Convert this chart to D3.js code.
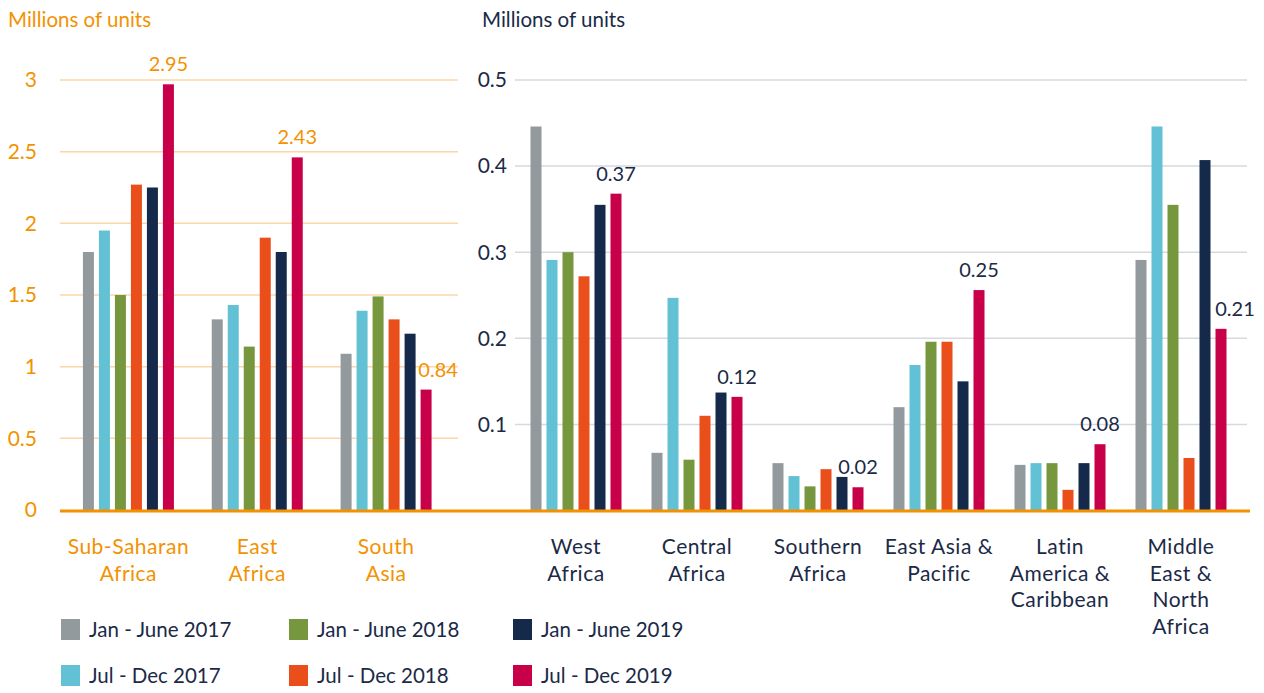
<!DOCTYPE html>
<html>
<head>
<meta charset="utf-8">
<script src="https://cdn.jsdelivr.net/npm/d3@7"></script>
<style>
  body { margin: 0; background: #fff; }
  svg text { font-family: Lato, "Open Sans", sans-serif; }
</style>
</head>
<body>
<div id="chart"></div>
<script>
// Series (periods)
const seriesNames = ['Jan - June 2017', 'Jul - Dec 2017', 'Jan - June 2018', 'Jul - Dec 2018', 'Jan - June 2019', 'Jul - Dec 2019'];
const seriesColors = ['#939a9d', '#63c1d6', '#77973f', '#e94e1b', '#15294a', '#c8004a'];

// Left panel: large regions
const leftCategories = [['Sub-Saharan', 'Africa'], ['East', 'Africa'], ['South', 'Asia']];
const leftValues = [
  [1.80, 1.95, 1.50, 2.27, 2.25, 2.97],
  [1.33, 1.43, 1.14, 1.90, 1.80, 2.46],
  [1.09, 1.39, 1.49, 1.33, 1.23, 0.84]
];
const leftLabels = ['2.95', '2.43', '0.84'];
const leftLabelShift = [0, 0, 12];
const leftTicks = [0, 0.5, 1, 1.5, 2, 2.5, 3];

// Right panel: smaller regions
const rightCategories = [['West', 'Africa'], ['Central', 'Africa'], ['Southern', 'Africa'], ['East Asia &', 'Pacific'], ['Latin', 'America &', 'Caribbean'], ['Middle', 'East &', 'North', 'Africa']];
const rightValues = [
  [0.446, 0.291, 0.300, 0.272, 0.355, 0.368],
  [0.067, 0.247, 0.059, 0.110, 0.137, 0.132],
  [0.055, 0.040, 0.028, 0.048, 0.039, 0.027],
  [0.120, 0.169, 0.196, 0.196, 0.150, 0.256],
  [0.053, 0.055, 0.055, 0.024, 0.055, 0.077],
  [0.291, 0.446, 0.355, 0.061, 0.407, 0.211]
];
const rightLabels = ['0.37', '0.12', '0.02', '0.25', '0.08', '0.21'];
const rightLabelShift = [0, 0, 0, 0, 0, 14];
const rightTicks = [0.1, 0.2, 0.3, 0.4, 0.5];

const ORANGE = '#f39200';
const NAVY = '#1b2a47';

const svg = d3.select('#chart').append('svg')
  .attr('width', 1264)
  .attr('height', 693);

// Scales
const yLeft = d3.scaleLinear().domain([0, 3]).range([510, 80]);
const yRight = d3.scaleLinear().domain([0, 0.5]).range([510.5, 80]);

const xLeft = d3.scaleBand().domain(d3.range(leftCategories.length)).range([64, 450.5]);
const xRight = d3.scaleBand().domain(d3.range(rightCategories.length)).range([515.5, 1241.5]);
const xInner = d3.scaleBand().domain(d3.range(seriesNames.length)).range([0, 91]).paddingInner(0.3125);

function drawPanel(opts) {
  const g = svg.append('g');

  // gridlines
  g.selectAll('line.grid')
    .data(opts.ticks.filter(d => d > 0))
    .enter().append('line')
    .attr('x1', opts.gridX[0])
    .attr('x2', opts.gridX[1])
    .attr('y1', d => opts.y(d))
    .attr('y2', d => opts.y(d))
    .attr('stroke', opts.gridColor)
    .attr('stroke-width', 1.5);

  // tick labels
  g.selectAll('text.tick')
    .data(opts.ticks)
    .enter().append('text')
    .attr('x', opts.tickX)
    .attr('y', d => opts.y(d))
    .attr('dy', '0.35em')
    .attr('text-anchor', 'end')
    .attr('fill', opts.textColor)
    .style('font-size', '21px')
    .text(d => d);

  // bars
  const groups = g.selectAll('g.group')
    .data(opts.values)
    .enter().append('g')
    .attr('transform', (d, i) => `translate(${opts.x(i) + (opts.x.bandwidth() - 91) / 2},0)`);

  groups.selectAll('rect')
    .data(d => d)
    .enter().append('rect')
    .attr('x', (d, j) => xInner(j))
    .attr('width', xInner.bandwidth())
    .attr('y', d => opts.y(d))
    .attr('height', d => opts.y(0) - opts.y(d))
    .attr('fill', (d, j) => seriesColors[j]);

  // value labels above the last series
  groups.append('text')
    .attr('x', (d, i) => xInner(5) + xInner.bandwidth() / 2 + opts.labelShift[i])
    .attr('y', d => opts.y(d[5]) - 13)
    .attr('text-anchor', 'middle')
    .attr('fill', opts.textColor)
    .style('font-size', '20px')
    .text((d, i) => opts.labels[i]);

  // category labels
  const cat = g.selectAll('text.cat')
    .data(opts.categories)
    .enter().append('text')
    .attr('text-anchor', 'middle')
    .attr('fill', opts.textColor)
    .style('font-size', '21px')
    .style('letter-spacing', '0.5px');

  cat.each(function(lines, i) {
    d3.select(this).selectAll('tspan')
      .data(lines)
      .enter().append('tspan')
      .attr('x', opts.x(i) + opts.x.bandwidth() / 2)
      .attr('y', (d, k) => 554 + k * 26.5)
      .text(d => d);
  });

  // axis title
  g.append('text')
    .attr('x', opts.titleX)
    .attr('y', 27)
    .attr('fill', opts.textColor)
    .style('font-size', '20.5px')
    .text('Millions of units');
}

drawPanel({
  y: yLeft, x: xLeft, values: leftValues, categories: leftCategories,
  ticks: leftTicks, labels: leftLabels, labelShift: leftLabelShift,
  gridX: [60, 458], gridColor: '#fdd6a6', textColor: ORANGE, tickX: 37, titleX: 8
});

drawPanel({
  y: yRight, x: xRight, values: rightValues, categories: rightCategories,
  ticks: rightTicks, labels: rightLabels, labelShift: rightLabelShift,
  gridX: [515, 1247], gridColor: '#d6dade', textColor: NAVY, tickX: 507, titleX: 482
});

// shared baseline
svg.append('line')
  .attr('x1', 60)
  .attr('x2', 1250)
  .attr('y1', yLeft(0) + 1)
  .attr('y2', yLeft(0) + 1)
  .attr('stroke', ORANGE)
  .attr('stroke-width', 3);

// legend (column-major, 3 columns x 2 rows)
const legendCols = [61, 289, 513];
const legendRows = [630, 676];

const legend = svg.append('g').selectAll('g')
  .data(seriesNames)
  .enter().append('g')
  .attr('transform', (d, i) => `translate(${legendCols[Math.floor(i / 2)]},${legendRows[i % 2]})`);

legend.append('rect')
  .attr('x', 0)
  .attr('y', -11)
  .attr('width', 19)
  .attr('height', 21)
  .attr('fill', (d, i) => seriesColors[i]);

legend.append('text')
  .attr('x', 28)
  .attr('y', 0)
  .attr('dy', '0.35em')
  .attr('fill', NAVY)
  .style('font-size', '20.5px')
  .text(d => d);
</script>
</body>
</html>
